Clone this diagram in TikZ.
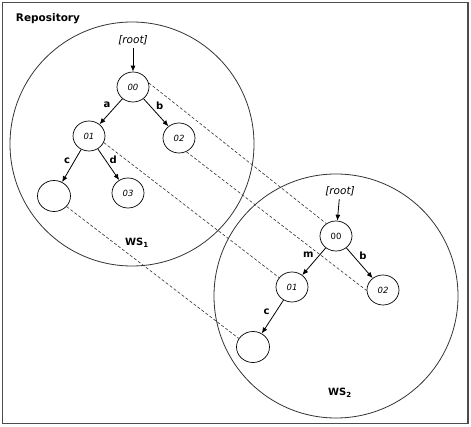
\documentclass[tikz,border=0pt]{standalone}
\usepackage{fontspec}
\setmainfont{DejaVu Sans}
\usetikzlibrary{shapes.geometric, arrows.meta}

\begin{document}
\begin{tikzpicture}[x=1pt, y=-1pt,
    state/.style={draw, ellipse, minimum width=32pt, minimum height=30pt, inner sep=0pt, line width=0.7pt, font=\fontsize{8.5}{10}\selectfont\itshape},
    edgelabel/.style={font=\fontsize{10}{12}\selectfont\bfseries, inner sep=1pt},
    tree/.style={-{Latex[length=6pt, width=5pt]}, line width=0.8pt},
    link/.style={dash pattern=on 3pt off 2pt, line width=0.6pt, black!80},
    wscircle/.style={draw, circle, minimum size=244pt, line width=0.8pt, black!80}]
    \useasboundingbox (0,0) rectangle (471,427);

    % Frame
    \draw[gray!60!black, line width=1.2pt] (2.5,2.5) rectangle (468,423.5);
    \node[font=\fontsize{10.5}{12}\selectfont\bfseries] (repo) at (48,19) {Repository};

    % Workspaces
    \node[wscircle] (ws1) at (132,144) {};
    \node[wscircle] (ws2) at (336,296) {};
    \node[font=\fontsize{10}{12}\selectfont\bfseries] (ws1label) at (137,243) {WS\textsubscript{1}};
    \node[font=\fontsize{10}{12}\selectfont\bfseries] (ws2label) at (340,393) {WS\textsubscript{2}};

    % Tree in WS1
    \node[font=\fontsize{10.5}{12}\selectfont\itshape] (r1) at (133,40) {[root]};
    \node[state] (a00) at (133,87) {00};
    \node[state] (a01) at (89,136) {01};
    \node[state] (a02) at (179,138) {02};
    \node[state, minimum width=33pt, minimum height=31pt] (aleaf) at (54,196) {};
    \node[state] (a03) at (128,193) {03};
    \draw[tree] (r1) -- (a00);
    \draw[tree] (a00) -- node[edgelabel, pos=0.25, left=5pt] {a} (a01);
    \draw[tree] (a00) -- node[edgelabel, pos=0.25, right=5pt] {b} (a02);
    \draw[tree] (a01) -- node[edgelabel, pos=0.35, left=3pt] {c} (aleaf);
    \draw[tree] (a01) -- node[edgelabel, pos=0.35, right=3pt] {d} (a03);

    % Tree in WS2
    \node[font=\fontsize{10.5}{12}\selectfont\itshape] (r2) at (340,191) {[root]};
    \node[state, font=\fontsize{8.5}{10}\selectfont\upshape] (b00) at (336,236) {00};
    \node[state] (b01) at (292,287) {01};
    \node[state] (b02) at (383,290) {02};
    \node[state, minimum width=33pt, minimum height=31pt] (bleaf) at (253,347) {};
    \draw[tree] (r2) -- (b00);
    \draw[tree] (b00) -- node[edgelabel, pos=0.25, left=5pt] {m} (b01);
    \draw[tree] (b00) -- node[edgelabel, pos=0.25, right=5pt] {b} (b02);
    \draw[tree] (b01) -- node[edgelabel, pos=0.35, left=5pt] {c} (bleaf);

    % Shared nodes
    \draw[link] (a00.15) -- (b00.128);
    \draw[link] (a01.-24) -- (b01.144);
    \draw[link] (a02.-62) -- (b02.182);
    \draw[link] (aleaf.-40) -- (bleaf.149);
\end{tikzpicture}
\end{document}
